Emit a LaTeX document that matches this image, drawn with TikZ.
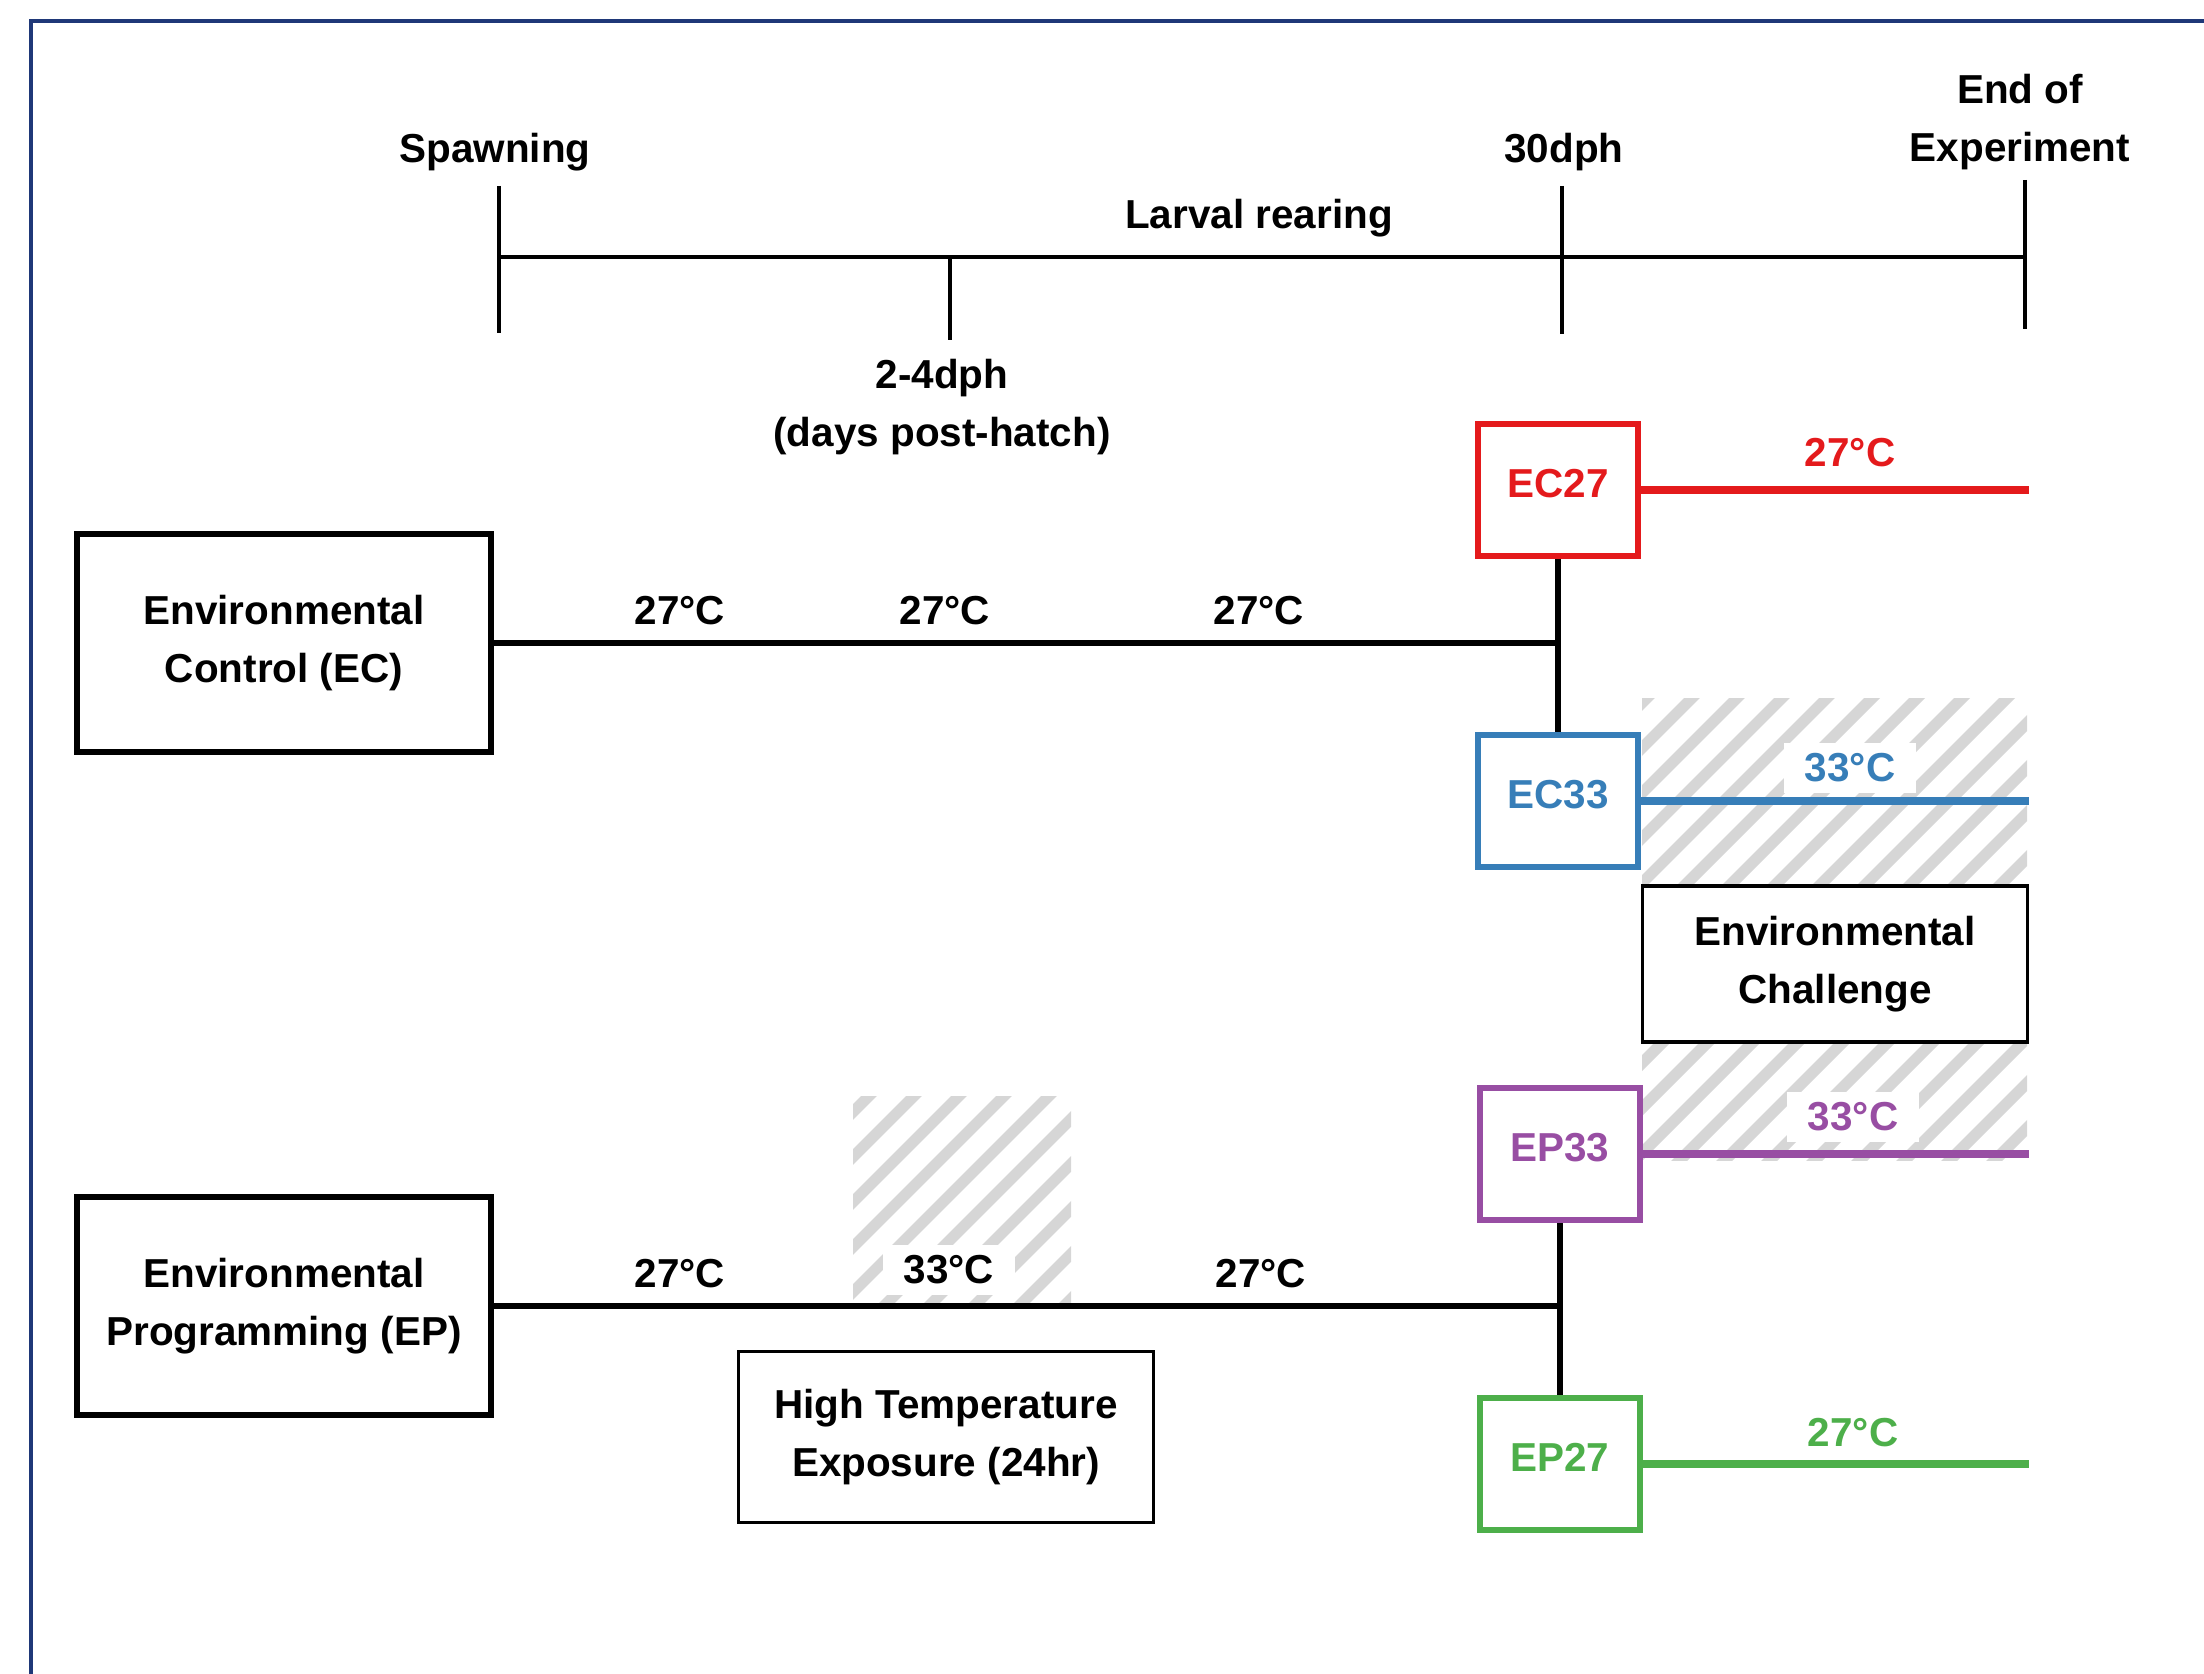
\documentclass[tikz,border=0pt]{standalone}
\usepackage{fontspec}
\setmainfont{Liberation Sans}
\usetikzlibrary{positioning}
\definecolor{ecred}{RGB}{228,26,28}
\definecolor{ecblue}{RGB}{55,126,184}
\definecolor{eppurple}{RGB}{152,78,163}
\definecolor{epgreen}{RGB}{77,175,74}
\definecolor{framecol}{RGB}{31,56,120}

\begin{document}
\begin{tikzpicture}[x=0.01cm, y=-0.01cm,
    every node/.style={font=\fontsize{11.5}{16.5}\selectfont\bfseries},
    grpbox/.style={draw, line width=1.8pt, minimum width=4.14cm, minimum height=2.18cm, align=center},
    trtbox/.style={draw, line width=1.8pt, minimum width=1.6cm, minimum height=1.32cm, text depth=0.14cm},
    infobox/.style={draw, line width=1pt, align=center},
    tick/.style={line width=0.9pt},
    branch/.style={line width=1.9pt},
    cbranch/.style={line width=2.2pt},
    hatch/.style={line width=3.2pt, black!16},
    hlabel/.style={fill=white, inner xsep=6pt, inner ysep=3pt}]

    \useasboundingbox (0,0) rectangle (2204,1673);

    % Outer frame (runs off the page at right and bottom)
    \draw[framecol, line width=0.9pt] (31,21) rectangle (2300,1760);

    % Hatched areas: environmental challenge and high temperature exposure
    \begin{scope}
        \clip (1642,698) rectangle (2027,1160);
        \foreach \s in {1100,1145,...,2060}
            \draw[hatch] (\s,1200) -- ++(550,-550);
    \end{scope}
    \begin{scope}
        \clip (853,1096) rectangle (1071,1304);
        \foreach \s in {580,625,...,1090}
            \draw[hatch] (\s,1340) -- ++(300,-300);
    \end{scope}

    % Timeline
    \coordinate (tSpawn) at (499,257);
    \coordinate (tDph) at (950,257);
    \coordinate (t30) at (1562,257);
    \coordinate (tEnd) at (2025,257);
    \coordinate (lineEnd) at (2029,257);
    \draw[tick] (tSpawn) -- (tEnd);
    \draw[tick] (tSpawn) ++(0,-71) -- ++(0,147);
    \draw[tick] (tDph) -- ++(0,83);
    \draw[tick] (t30) ++(0,-71) -- ++(0,148);
    \draw[tick] (tEnd) ++(0,-77) -- ++(0,149);

    \node (spawning) at (495,152) {Spawning};
    \node (dph30) at (1564,152) {30dph};
    \node[align=center] (endexp) at (2020,122) {End of\\Experiment};
    \node (larval) at (1259,218) {Larval rearing};
    \node[align=center] (dphlbl) at (942,407) {2-4dph\\(days post-hatch)};

    % Groups
    \node[grpbox] (ec) at (284,643) {Environmental\\Control (EC)};
    \node[grpbox] (ep) at (284,1306) {Environmental\\Programming (EP)};

    % Treatments
    \node[trtbox, ecred] (ec27) at (1558,490) {EC27};
    \node[trtbox, ecblue] (ec33) at (1558,801) {EC33};
    \node[trtbox, eppurple] (ep33) at (1560,1154) {EP33};
    \node[trtbox, epgreen] (ep27) at (1560,1464) {EP27};

    \node[infobox, fill=white, minimum width=3.85cm, minimum height=1.56cm] (challenge) at (1835,964) {Environmental\\Challenge};
    \node[infobox, minimum width=4.15cm, minimum height=1.71cm] (hightemp) at (946,1437) {High Temperature\\Exposure (24hr)};

    % Temperatures along the rearing lines
    \node (ecT1) at (680,611) {27°C};
    \node (ecT2) at (945,611) {27°C};
    \node (ecT3) at (1259,611) {27°C};
    \node (epT1) at (680,1274) {27°C};
    \node[hlabel] (epT2) at (949,1270) {33°C};
    \node (epT3) at (1261,1274) {27°C};

    \node[text=ecred] (ec27T) at (1850,453) {27°C};
    \node[hlabel, text=ecblue] (ec33T) at (1850,768) {33°C};
    \node[hlabel, text=eppurple] (ep33T) at (1853,1117) {33°C};
    \node[text=epgreen] (ep27T) at (1853,1433) {27°C};

    % Branches
    \draw[branch] (ec.east) -- (ec.east -| ec27.south);
    \draw[branch] (ec27.south) -- (ec33.north);
    \draw[branch] (ep.east) -- (ep.east -| ep33.south);
    \draw[branch] (ep33.south) -- (ep27.north);

    \draw[cbranch, ecred] (ec27.east) -- (ec27.east -| lineEnd);
    \draw[cbranch, ecblue] (ec33.east) -- (ec33.east -| lineEnd);
    \draw[cbranch, eppurple] (ep33.east) -- (ep33.east -| lineEnd);
    \draw[cbranch, epgreen] (ep27.east) -- (ep27.east -| lineEnd);

\end{tikzpicture}
\end{document}
